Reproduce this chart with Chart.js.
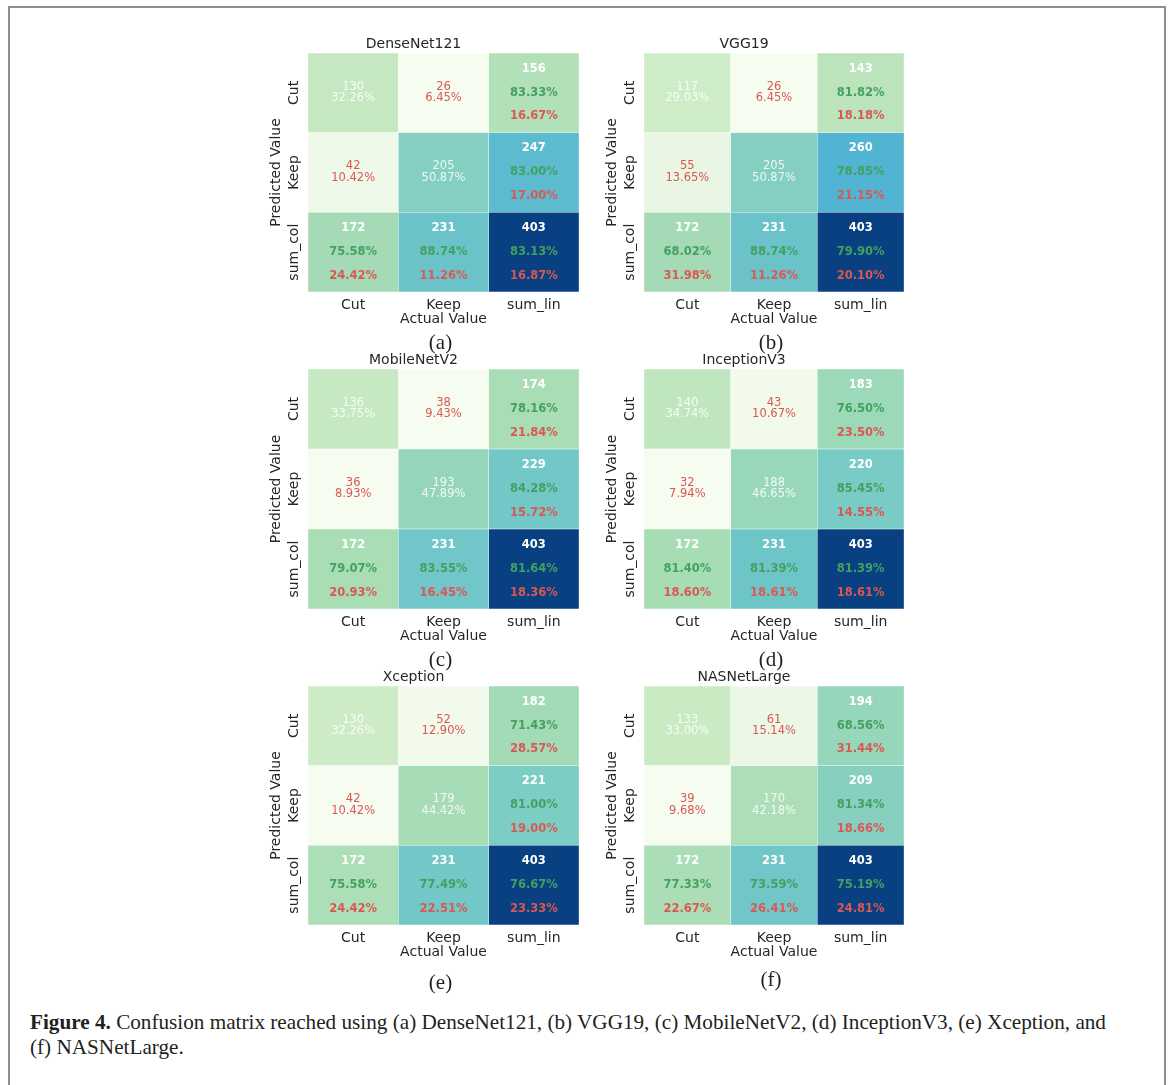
<!DOCTYPE html>
<html>
<head>
<meta charset="utf-8">
<title>Confusion matrices</title>
<script src="https://cdn.jsdelivr.net/npm/chart.js@4.4.0/dist/chart.umd.min.js"></script>
<style>
  html, body { margin: 0; padding: 0; background: #ffffff; }
  body { width: 1168px; height: 1085px; position: relative; overflow: hidden; }
  #frame {
    position: absolute; left: 8px; top: 6px; width: 1158px; height: 1200px;
    border: 2px solid #8e8e8e; border-bottom: none; box-sizing: border-box;
  }
  canvas { position: absolute; }
  .tag {
    position: absolute; transform: translate(-50%, -50%);
    font-family: 'Liberation Serif', serif; font-size: 21px; color: #231f20;
  }
  #caption {
    position: absolute; left: 30px; top: 1010px;
    font-family: 'Liberation Serif', serif; font-size: 21.2px; line-height: 25px; color: #231f20;
    white-space: nowrap;
  }
</style>
</head>
<body>
<div id="frame"></div>
<div id="caption"><b>Figure 4.</b> Confusion matrix reached using (a) DenseNet121, (b) VGG19, (c) MobileNetV2, (d) InceptionV3, (e) Xception, and<br>(f) NASNetLarge.</div>
<script>
// ---- data ----
const modelNames = ['DenseNet121', 'VGG19', 'MobileNetV2', 'InceptionV3', 'Xception', 'NASNetLarge'];
const panelTags = ['(a)', '(b)', '(c)', '(d)', '(e)', '(f)'];
const actualLabels = ['Cut', 'Keep', 'sum_lin'];      // columns
const predictedLabels = ['Cut', 'Keep', 'sum_col'];   // rows, top to bottom

// counts: [pred Cut & actual Cut, pred Cut & actual Keep, pred Keep & actual Cut, pred Keep & actual Keep]
const denseNet121 = [130, 26, 42, 205];
const vgg19 = [117, 26, 55, 205];
const mobileNetV2 = [136, 38, 36, 193];
const inceptionV3 = [140, 43, 32, 188];
const xception = [130, 52, 42, 179];
const nasNetLarge = [133, 61, 39, 170];
const modelCounts = [denseNet121, vgg19, mobileNetV2, inceptionV3, xception, nasNetLarge];

// ---- layout of each heatmap (cell block edges in page pixels) ----
const colEdges = [[308, 579], [644, 904]];
const rowEdges = [[53, 292], [369, 609], [686, 925]];
const tagY = [342, 342, 659, 659, 982, 979];

const GUTTER_LEFT = 60, GUTTER_TOP = 22, GUTTER_BOTTOM = 60, PAD_RIGHT = 10;
const LABEL_SIZE = 14;

// GnBu colour map
const gnbu = [[247,252,240],[224,243,219],[204,235,197],[168,221,181],[123,204,196],
              [78,179,211],[43,140,190],[8,104,172],[8,64,129]];
function cmap(t) {
  t = Math.max(0, Math.min(1, t));
  const p = t * (gnbu.length - 1);
  const i = Math.min(Math.floor(p), gnbu.length - 2);
  const f = p - i;
  const c = gnbu[i].map((v, k) => Math.round(v + (gnbu[i + 1][k] - v) * f));
  return `rgb(${c[0]},${c[1]},${c[2]})`;
}

// 3x3 table with row / column totals
function buildMatrix(c) {
  const [a, b, d, e] = c;
  const r0 = a + b, r1 = d + e, c0 = a + d, c1 = b + e, tot = a + b + d + e;
  return [[a, b, r0], [d, e, r1], [c0, c1, tot]];
}

const pct = (n, d) => (100 * n / d).toFixed(2) + '%';

const RED = '#db5753';
const GREEN = '#43a160';
const FONT = "'DejaVu Sans', sans-serif";

// cell annotations + rotated row labels
const annotate = {
  id: 'annotate',
  afterDatasetsDraw(chart, args, opts) {
    const { ctx } = chart;
    const m = opts.matrix;
    const total = m[2][2];
    ctx.save();
    ctx.textAlign = 'center';
    ctx.textBaseline = 'middle';
    chart.data.datasets.forEach((ds, di) => {
      const r = ds.row;
      chart.getDatasetMeta(di).data.forEach((bar, col) => {
        const { x, y, base } = bar.getProps(['x', 'y', 'base'], true);
        const cy = (y + base) / 2;
        const h = Math.abs(base - y);
        const v = m[r][col];
        if (r < 2 && col < 2) {
          ctx.font = `11.5px ${FONT}`;
          ctx.fillStyle = r === col ? 'rgba(255,255,255,0.85)' : RED;
          ctx.fillText(String(v), x, cy - 6);
          ctx.fillText(pct(v, total), x, cy + 5.5);
        } else {
          let good;
          if (r === 2 && col === 2) { good = m[0][0] + m[1][1]; }
          else if (r === 2) { good = m[col][col]; }
          else { good = m[r][r]; }
          const bad = v - good;
          ctx.font = `bold 11.5px ${FONT}`;
          ctx.fillStyle = '#ffffff';
          ctx.fillText(String(v), x, cy - 0.305 * h);
          ctx.fillStyle = GREEN;
          ctx.fillText(pct(good, v), x, cy);
          ctx.fillStyle = RED;
          ctx.fillText(pct(bad, v), x, cy + 0.295 * h);
        }
      });
    });
    // row labels, rotated like the axis title
    const ys = chart.scales.y;
    ctx.font = `${LABEL_SIZE}px ${FONT}`;
    ctx.fillStyle = '#262626';
    predictedLabels.forEach((lab, r) => {
      const py = ys.getPixelForValue(predictedLabels.length - r - 0.5);
      ctx.save();
      ctx.translate(chart.chartArea.left - 14, py);
      ctx.rotate(-Math.PI / 2);
      ctx.fillText(lab, 0, 0);
      ctx.restore();
    });
    ctx.restore();
  }
};

Chart.defaults.font.family = FONT;
Chart.defaults.color = '#262626';

modelNames.forEach((name, idx) => {
  const [L, R] = colEdges[idx % 2];
  const [T, B] = rowEdges[Math.floor(idx / 2)];
  const canvas = document.createElement('canvas');
  canvas.width = (R - L) + GUTTER_LEFT + PAD_RIGHT;
  canvas.height = (B - T) + GUTTER_TOP + GUTTER_BOTTOM;
  canvas.style.left = (L - GUTTER_LEFT) + 'px';
  canvas.style.top = (T - GUTTER_TOP) + 'px';
  document.body.appendChild(canvas);

  const tag = document.createElement('div');
  tag.className = 'tag';
  tag.textContent = panelTags[idx];
  tag.style.left = ((L + R) / 2 - 3) + 'px';
  tag.style.top = tagY[idx] + 'px';
  document.body.appendChild(tag);

  const matrix = buildMatrix(modelCounts[idx]);
  const flat = matrix.flat();
  const vmin = Math.min(...flat), vmax = Math.max(...flat);

  // stacked from the bottom row upwards
  const datasets = [2, 1, 0].map(r => ({
    label: predictedLabels[r],
    row: r,
    data: actualLabels.map(() => 1),
    backgroundColor: matrix[r].map(v => cmap((v - vmin) / (vmax - vmin))),
    borderColor: 'rgba(255,255,255,0.55)',
    borderWidth: 0.5,
    borderSkipped: false,
    barPercentage: 1,
    categoryPercentage: 1
  }));

  new Chart(canvas, {
    type: 'bar',
    data: { labels: actualLabels, datasets },
    plugins: [annotate],
    options: {
      responsive: false,
      animation: false,
      events: [],
      layout: { padding: { left: 0, right: PAD_RIGHT, top: 0, bottom: 0 } },
      plugins: {
        legend: { display: false },
        tooltip: { enabled: false },
        title: {
          display: true, text: name, color: '#262626',
          font: { size: LABEL_SIZE, weight: 'normal', lineHeight: 1.2 },
          padding: { top: 4.6, bottom: 0.6 }
        },
        annotate: { matrix }
      },
      scales: {
        x: {
          type: 'category', stacked: true, offset: true,
          grid: { display: false, drawTicks: false },
          border: { display: false },
          ticks: { font: { size: LABEL_SIZE }, padding: 4.5, maxRotation: 0, color: '#262626' },
          title: {
            display: true, text: 'Actual Value', color: '#262626',
            font: { size: LABEL_SIZE, lineHeight: 1.2 }, padding: { top: 0, bottom: 24.1 }
          },
          afterFit(s) { s.height = GUTTER_BOTTOM; }
        },
        y: {
          type: 'linear', stacked: true, min: 0, max: 3,
          grid: { display: false, drawTicks: false },
          border: { display: false },
          ticks: { display: false },
          title: {
            display: true, text: 'Predicted Value', color: '#262626',
            font: { size: LABEL_SIZE, lineHeight: 1.2 }, padding: { top: 19.6, bottom: 0 }
          },
          afterFit(s) { s.width = GUTTER_LEFT; }
        }
      }
    }
  });
});
</script>
</body>
</html>
